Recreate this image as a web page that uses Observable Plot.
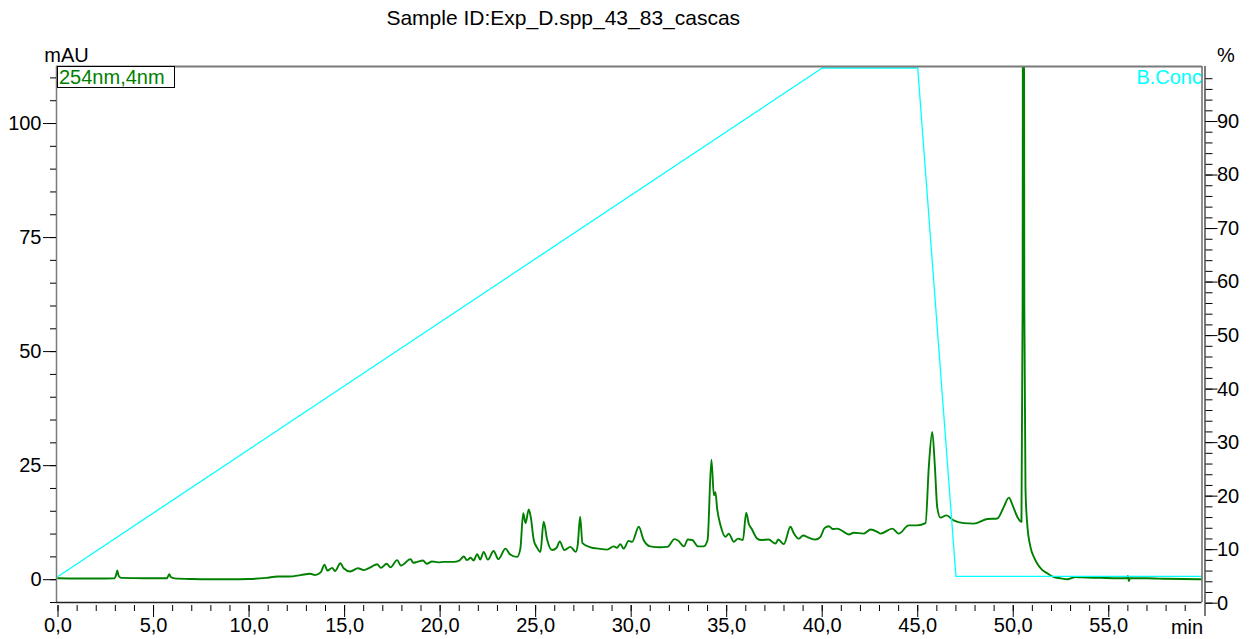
<!DOCTYPE html>
<html><head><meta charset="utf-8">
<script src="https://cdn.jsdelivr.net/npm/d3@7"></script>
<script src="https://cdn.jsdelivr.net/npm/@observablehq/plot@0.6"></script>
<style>
body{margin:0;background:#fff;font-family:"Liberation Sans",Arial,sans-serif;}
#wrap{position:relative;width:1253px;height:639px;overflow:hidden;}
#chart svg{display:block;}
#legend{position:absolute;left:57px;top:66px;width:115px;height:20px;border:1px solid #000;color:#008000;font-size:20px;line-height:21px;padding-left:1px;box-sizing:content-box;background:#fff;white-space:nowrap;}
</style></head><body>
<div id="wrap"><div id="chart"></div><div id="legend">254nm,4nm</div></div>
<script>
const title = "Sample ID:Exp_D.spp_43_83_cascas";
const yUnit = "mAU", y2Unit = "%", xUnit = "min";
const traceName = "B.Conc";

// chromatogram 254nm (time in min, absorbance in mAU)
const rtTimes = [0.0,1.0,2.0,2.95,3.05,3.1,3.17,3.3,4.5,5.7,5.82,5.9,6.1,7.0,8.0,9.0,10.0,10.9,11.5,12.1,12.7,13.2,13.45,13.75,13.95,14.1,14.35,14.5,14.78,14.95,15.3,15.7,16.0,16.35,16.7,16.9,17.2,17.4,17.75,17.95,18.45,18.6,18.8,19.1,19.3,19.58,19.9,20.2,20.7,21.0,21.24,21.4,21.6,21.75,21.94,22.1,22.28,22.5,22.8,23.05,23.42,23.65,24.03,24.2,24.35,24.47,24.64,24.75,24.9,25.05,25.25,25.42,25.6,25.86,26.1,26.26,26.5,26.82,27.1,27.2,27.33,27.45,27.87,28.3,28.74,29.09,29.25,29.44,29.6,29.87,30.05,30.4,30.65,31.0,31.5,31.9,32.27,32.45,32.76,32.97,33.2,33.5,33.8,34.0,34.2,34.33,34.41,34.5,34.68,34.94,35.11,35.37,35.6,35.85,36.02,36.16,36.3,36.6,36.8,37.2,37.55,37.7,37.99,38.34,38.5,38.77,39.0,39.3,39.65,39.91,40.12,40.35,40.55,40.78,41.13,41.4,41.65,42.18,42.53,42.88,43.05,43.67,44.01,44.53,44.97,45.41,45.58,45.76,45.9,46.02,46.19,46.5,46.88,47.4,47.93,48.64,49.16,49.5,49.77,49.97,50.21,50.43,50.49,50.53,50.58,50.64,50.73,50.9,51.1,51.26,51.5,51.78,52.1,52.48,52.83,53.26,53.6,54.57,55.5,55.95,56.0,56.05,56.1,57.0,58.0,59.88];
const absorb = [0.3,0.25,0.25,0.3,1.2,2.0,0.9,0.4,0.3,0.3,1.2,0.6,0.3,0.15,0.1,0.1,0.15,0.4,0.7,0.7,1.0,1.3,1.0,1.6,3.3,2.0,2.6,1.9,3.6,2.5,1.8,2.5,2.1,2.7,3.4,2.6,3.5,2.7,4.3,3.1,4.5,3.7,3.9,4.2,3.5,4.0,3.8,3.9,3.9,4.2,5.1,4.3,4.8,4.2,5.6,4.4,6.1,4.4,6.3,4.5,6.8,5.6,5.0,6.8,14.6,12.4,15.4,13.6,8.7,7.2,6.1,12.7,8.8,6.5,7.0,8.4,6.5,7.2,6.1,7.5,13.8,8.0,7.1,6.8,6.6,7.3,7.0,7.8,6.8,8.5,8.3,11.6,8.7,7.3,7.1,7.2,8.9,8.6,7.3,8.8,8.7,7.3,7.3,8.7,26.3,18.5,19.2,15.6,11.9,9.4,10.1,8.3,9.0,8.7,14.7,12.2,11.2,9.0,8.7,8.8,7.9,8.8,7.8,11.6,10.3,9.0,9.7,9.2,8.8,9.4,11.3,11.7,11.1,11.2,10.5,9.9,10.3,10.1,11.0,10.5,10.1,11.2,10.1,11.9,11.9,12.4,24.7,32.4,24.7,15.9,13.6,14.1,13.0,12.4,12.3,13.3,13.4,15.9,18.0,16.3,13.8,12.7,60,250,60,20,12.3,7.2,4.8,3.5,2.2,1.4,0.6,0.3,0.1,0.6,0.5,0.4,0.3,0.3,0.8,-0.3,0.3,0.3,0.2,0.1];

// pump B concentration program (time in min, %)
const gradTimes = [0, 40, 45, 47, 59.88];
const gradPct = [5, 100, 100, 5, 5];

// axis ticks
const xMajor = [0,5,10,15,20,25,30,35,40,45,50,55];
const xMinor = d3.range(0, 60, 1);
const yMajor = [0,25,50,75,100];
const yMinor = d3.range(-5, 115, 5);
const pMajor = [0,10,20,30,40,50,60,70,80,90];
const pMinor = d3.range(0, 100, 2);

const xDom = [-0.08, 59.88];
const yDom = [-5, 112.5];
const pToY = p => -5.15 + p * 1.1732;
const yToP = v => Math.round((v + 5.15) / 1.1732);

const trace = rtTimes.map((t, i) => ({t, v: absorb[i]}));
const grad = gradTimes.map((t, i) => ({t, v: pToY(gradPct[i])}));

const fmt = d => d.toFixed(1).replace(".", ",");

const chart = Plot.plot({
  width: 1253, height: 639,
  marginLeft: 56, marginRight: 51.5, marginTop: 66, marginBottom: 37,
  style: {fontFamily: "'Liberation Sans', Arial, sans-serif", fontSize: "20px", color: "#000", background: "#fff", overflow: "visible"},
  x: {domain: xDom},
  y: {domain: yDom},
  marks: [
    Plot.line(trace, {x: "t", y: "v", stroke: "#008000", strokeWidth: 1.9, curve: "monotone-x", clip: true}),
    Plot.line(grad, {x: "t", y: "v", stroke: "#00ffff", strokeWidth: 1.3, clip: true}),
    Plot.ruleX([xDom[0]], {stroke: "#7a7a7a", strokeWidth: 1.5}),
    Plot.ruleY([yDom[1]], {stroke: "#7a7a7a", strokeWidth: 2}),
    Plot.ruleX([xDom[1]], {stroke: "#222", strokeWidth: 1}),
    Plot.ruleY([yDom[0]], {stroke: "#222", strokeWidth: 1.3}),
    Plot.ruleX([xDom[1]], {y1: pToY(-2.5), y2: yDom[1], dx: 3, stroke: "#222", strokeWidth: 1.2}),
    Plot.axisY({anchor: "left", ticks: yMinor, tickSize: 6, tickFormat: () => "", label: null}),
    Plot.axisY({anchor: "left", ticks: yMajor, tickSize: 13, tickPadding: 2, label: null, fontSize: 20}),
    Plot.axisX({anchor: "bottom", ticks: xMinor, tickSize: 6, dy: 3, tickFormat: () => "", label: null}),
    Plot.axisX({anchor: "bottom", ticks: xMajor, tickSize: 12, dy: 3, tickPadding: 0, tickFormat: fmt, label: null, fontSize: 20}),
    Plot.axisY({anchor: "right", ticks: pMinor.map(pToY), tickSize: 7, dx: 3, tickFormat: () => "", label: null}),
    Plot.axisY({anchor: "right", ticks: pMajor.map(pToY), tickSize: 12, dx: 3, tickPadding: 0, tickFormat: v => String(yToP(v)), label: null, fontSize: 20}),
    Plot.text([title], {text: d => d, frameAnchor: "top", lineAnchor: "middle", dx: -66, dy: -48, fontSize: 21}),
    Plot.text([yUnit], {text: d => d, frameAnchor: "top-left", lineAnchor: "middle", textAnchor: "middle", dx: 10, dy: -11, fontSize: 20}),
    Plot.text([y2Unit], {text: d => d, frameAnchor: "top-right", lineAnchor: "middle", textAnchor: "middle", dx: 24, dy: -11, fontSize: 20}),
    Plot.text([xUnit], {text: d => d, frameAnchor: "bottom-right", lineAnchor: "middle", textAnchor: "middle", dx: -15, dy: 25, fontSize: 20}),
    Plot.text([traceName], {text: d => d, frameAnchor: "top-right", lineAnchor: "middle", textAnchor: "end", dx: 0, dy: 11, fontSize: 20, fill: "#00ffff"})
  ]
});
document.getElementById("chart").appendChild(chart);
</script>
</body></html>
